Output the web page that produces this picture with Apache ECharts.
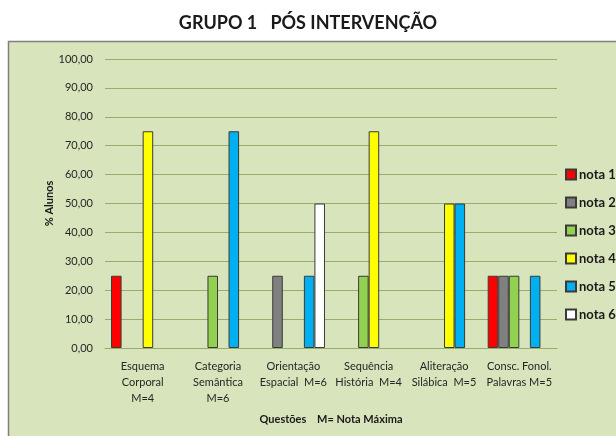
<!DOCTYPE html>
<html>
<head>
<meta charset="utf-8">
<script src="https://cdn.jsdelivr.net/npm/echarts@6/dist/echarts.min.js"></script>
<style>
  html, body { margin: 0; padding: 0; background: #fff; }
  #chart { width: 616px; height: 436px; }
</style>
</head>
<body>
<div id="chart"></div>
<script>
// categorias (questões)
var questoes = [
    'Esquema\nCorporal\nM=4',
    'Categoria\nSemântica\nM=6',
    'Orientação\nEspacial  M=6',
    'Sequência\nHistória  M=4',
    'Aliteração\nSilábica  M=5',
    'Consc. Fonol.\nPalavras M=5'
];
var notas = ['nota 1', 'nota 2', 'nota 3', 'nota 4', 'nota 5', 'nota 6'];
var cores = ['#ff0000', '#808080', '#92d050', '#ffff00', '#00b0f0', '#ffffff'];

// % alunos por nota
var nota1 = [25, 0, 0, 0, 0, 25];
var nota2 = [0, 0, 25, 0, 0, 25];
var nota3 = [0, 25, 0, 25, 0, 25];
var nota4 = [75, 0, 0, 75, 50, 0];
var nota5 = [0, 75, 25, 0, 50, 25];
var nota6 = [0, 0, 50, 0, 0, 0];
var valores = [nota1, nota2, nota3, nota4, nota5, nota6];

var yTicks = [0, 10, 20, 30, 40, 50, 60, 70, 80, 90, 100];

var fonte = 'Lato, "Open Sans", sans-serif';

let myChart = echarts.init(document.getElementById('chart'));

var series = notas.map(function (nome, i) {
    return {
        name: nome,
        type: 'bar',
        barGap: '0%',
        barCategoryGap: '16%',
        itemStyle: {
            color: cores[i],
            borderColor: '#3a3a3a',
            borderWidth: 1
        },
        data: valores[i].map(function (v) { return v === 0 ? '-' : v; })
    };
});

let option = {
    backgroundColor: '#ffffff',
    animation: false,
    textStyle: { fontFamily: fonte },
    graphic: [{
        type: 'rect',
        z: -10,
        shape: { x: 8.5, y: 41.5, width: 620, height: 410 },
        style: { fill: '#d8e4bc', stroke: '#7f7f7f', lineWidth: 1.5 }
    }],
    title: {
        text: 'GRUPO 1   PÓS INTERVENÇÃO',
        left: 'center',
        top: 9,
        textStyle: { fontFamily: fonte, fontSize: 18, fontWeight: 'bold', color: '#1a1a1a' }
    },
    legend: {
        orient: 'vertical',
        left: 560,
        top: 163,
        itemWidth: 10,
        itemHeight: 10,
        itemGap: 15,
        icon: 'rect',
        data: notas,
        textStyle: { fontFamily: fonte, fontSize: 13, fontWeight: 'bold', color: '#1a1a1a', padding: [0, 0, 0, -2] }
    },
    grid: { left: 105, right: 59, top: 59, bottom: 88 },
    xAxis: {
        type: 'category',
        data: questoes,
        name: 'Questões    M= Nota Máxima',
        nameLocation: 'middle',
        nameGap: 66,
        nameTextStyle: { fontFamily: fonte, fontSize: 11, fontWeight: 'bold', color: '#1a1a1a' },
        axisLine: { lineStyle: { color: '#98ad6a' } },
        axisTick: { show: false },
        axisLabel: { fontFamily: fonte, fontSize: 11, lineHeight: 16, color: '#262626', margin: 10, interval: 0 }
    },
    yAxis: {
        type: 'value',
        min: yTicks[0],
        max: yTicks[yTicks.length - 1],
        interval: 10,
        name: '% Alunos',
        nameLocation: 'middle',
        nameGap: 50,
        nameMoveOverlap: false,
        nameTextStyle: { fontFamily: fonte, fontSize: 11, fontWeight: 'bold', color: '#1a1a1a' },
        axisLine: { show: false },
        axisTick: { show: false },
        axisLabel: {
            fontFamily: fonte, fontSize: 11, color: '#262626', margin: 12,
            formatter: function (v) { return v.toFixed(2).replace('.', ','); }
        },
        splitLine: { lineStyle: { color: '#98ad6a', width: 1.2 } }
    },
    series: series
};

myChart.setOption(option);
</script>
</body>
</html>
